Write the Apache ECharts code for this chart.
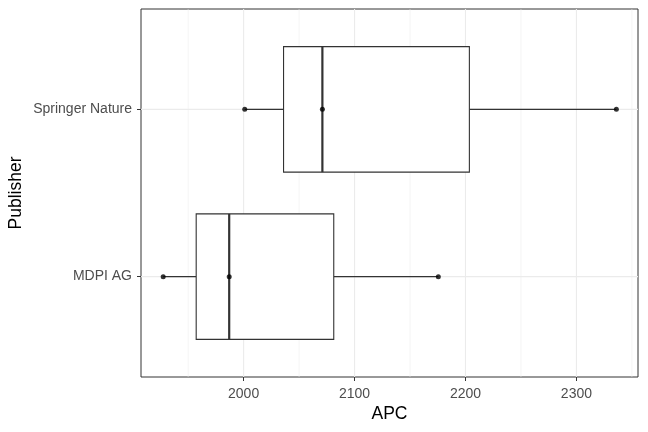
<!DOCTYPE html>
<html>
<head>
<meta charset="utf-8">
<script src="https://cdn.jsdelivr.net/npm/echarts@6/dist/echarts.min.js"></script>
<style>
html,body{margin:0;padding:0;background:#fff;}
#chart{width:648px;height:432px;}
</style>
</head>
<body>
<div id="chart"></div>
<script>
// ---- data ----
var publishers = ["MDPI AG", "Springer Nature"];
var mdpiValues = [1927.5, 1987, 2175.5];
var springerValues = [2001, 2071, 2336];
var xTicks = [2000, 2100, 2200, 2300];
var xMinorGrid = [1950, 2050, 2150, 2250, 2350];

var groups = [mdpiValues, springerValues];

function quantile(arr, p) {
  var s = arr.slice().sort(function(a,b){return a-b;});
  var h = (s.length - 1) * p;
  var lo = Math.floor(h), hi = Math.ceil(h);
  return s[lo] + (h - lo) * (s[hi] - s[lo]);
}
var boxData = groups.map(function(g, i) {
  return [i + 1, Math.min.apply(null, g), quantile(g, 0.25), quantile(g, 0.5), quantile(g, 0.75), Math.max.apply(null, g)];
});
var pointData = [];
groups.forEach(function(g, i) { g.forEach(function(v) { pointData.push([v, i + 1]); }); });

var X_MIN = 1907.5, X_MAX = 2355.5, Y_MIN = 0.4, Y_MAX = 2.6;

// grid lines: [direction (0 = vertical, 1 = horizontal), value, width]
var gridLineData = [];
xTicks.forEach(function(v){ gridLineData.push([0, v, 1.1]); });
xMinorGrid.forEach(function(v){ gridLineData.push([0, v, 0.55]); });
publishers.forEach(function(p, i){ gridLineData.push([1, i + 1, 1.1]); });

var chart = echarts.init(document.getElementById('chart'), null, {renderer: 'canvas'});
chart.setOption({
  backgroundColor: '#ffffff',
  animation: false,
  grid: {left: 141, right: 10, top: 9, bottom: 55, show: true, borderColor: '#333333', borderWidth: 1, backgroundColor: '#ffffff', z: 0, containLabel: false, outerBoundsMode: 'none'},
  xAxis: {
    type: 'value', min: X_MIN, max: X_MAX,
    name: 'APC', nameLocation: 'middle', nameGap: 28, nameMoveOverlap: false,
    nameTextStyle: {color: '#000', fontSize: 17.5, fontFamily: 'Liberation Sans'},
    axisLine: {show: false},
    axisTick: {show: true, customValues: xTicks, length: 4, lineStyle: {color: '#333333', width: 1}},
    axisLabel: {customValues: xTicks, color: '#4D4D4D', fontSize: 14, fontFamily: 'Liberation Sans', margin: 10,
      formatter: function(v){ return String(v); }},
    splitLine: {show: false}
  },
  yAxis: {
    type: 'value', min: Y_MIN, max: Y_MAX,
    name: 'Publisher', nameLocation: 'middle', nameGap: 116, nameRotate: 90, nameMoveOverlap: false,
    nameTextStyle: {color: '#000', fontSize: 17.5, fontFamily: 'Liberation Sans'},
    axisLine: {show: false},
    axisTick: {show: true, customValues: [1, 2], length: 4, lineStyle: {color: '#333333', width: 1}},
    axisLabel: {customValues: [1, 2], color: '#4D4D4D', fontSize: 14, fontFamily: 'Liberation Sans', margin: 9,
      formatter: function(v){ return publishers[Math.round(v) - 1] || ''; }},
    splitLine: {show: false}
  },
  series: [
    {
      type: 'custom', z: 1, silent: true, clip: false,
      data: gridLineData,
      dimensions: ['dir', 'val', 'w'],
      encode: {x: 1},
      renderItem: function(params, api) {
        var dir = api.value(0), v = api.value(1), w = api.value(2);
        var p1, p2;
        if (dir === 0) { p1 = api.coord([v, Y_MIN]); p2 = api.coord([v, Y_MAX]); }
        else { p1 = api.coord([X_MIN, v]); p2 = api.coord([X_MAX, v]); }
        return {type: 'line', shape: {x1: p1[0], y1: p1[1], x2: p2[0], y2: p2[1]}, style: {stroke: '#EBEBEB', lineWidth: w}};
      }
    },
    {
      type: 'custom', z: 2, silent: true,
      data: boxData,
      renderItem: function(params, api) {
        var y = api.value(0);
        var lo = api.value(1), q1 = api.value(2), med = api.value(3), q3 = api.value(4), hi = api.value(5);
        var half = api.size([0, 0.375])[1];
        var pLo = api.coord([lo, y]), pQ1 = api.coord([q1, y]), pMed = api.coord([med, y]), pQ3 = api.coord([q3, y]), pHi = api.coord([hi, y]);
        var stroke = '#333333';
        return {type: 'group', children: [
          {type: 'line', shape: {x1: pLo[0], y1: pLo[1], x2: pQ1[0], y2: pQ1[1]}, style: {stroke: stroke, lineWidth: 1.1}},
          {type: 'line', shape: {x1: pQ3[0], y1: pQ3[1], x2: pHi[0], y2: pHi[1]}, style: {stroke: stroke, lineWidth: 1.1}},
          {type: 'rect', shape: {x: pQ1[0], y: pQ1[1] - half, width: pQ3[0] - pQ1[0], height: 2 * half}, style: {fill: '#ffffff', stroke: stroke, lineWidth: 1.1}},
          {type: 'line', shape: {x1: pMed[0], y1: pMed[1] - half, x2: pMed[0], y2: pMed[1] + half}, style: {stroke: stroke, lineWidth: 2.2}}
        ]};
      },
      encode: {x: [1, 2, 3, 4, 5], y: 0}
    },
    {
      type: 'scatter', z: 3, silent: true,
      data: pointData, symbol: 'circle', symbolSize: 5,
      itemStyle: {color: '#000000'}
    }
  ]
});
</script>
</body>
</html>
